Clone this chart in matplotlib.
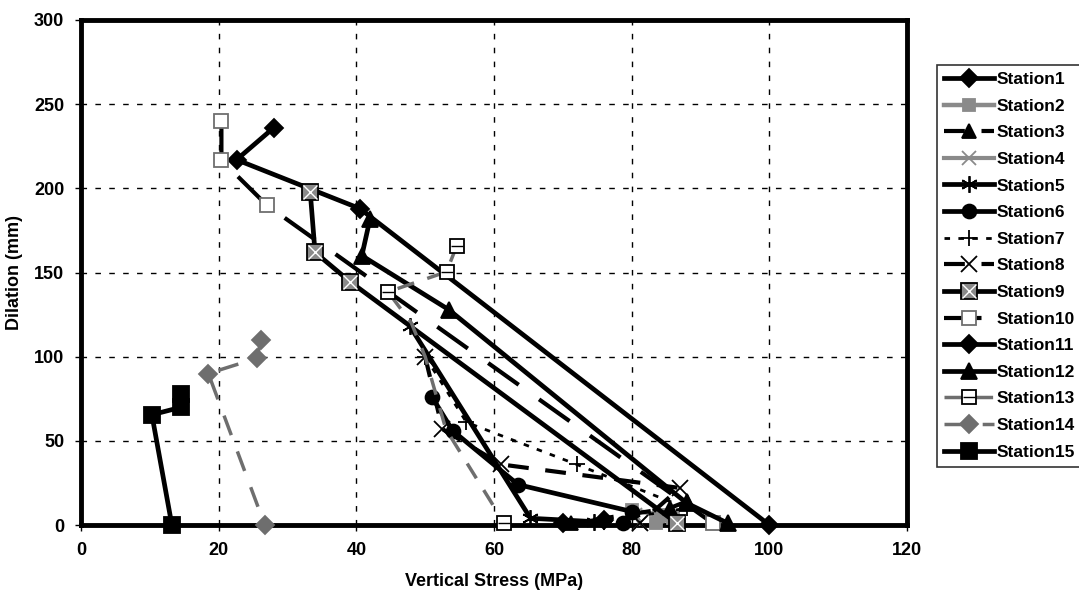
import matplotlib
matplotlib.use("Agg")
import matplotlib.pyplot as plt
from matplotlib.legend_handler import HandlerTuple

plt.rcParams['font.family'] = ['Liberation Sans', 'DejaVu Sans']
plt.rcParams['font.weight'] = 'bold'

stations = [f"Station{i}" for i in range(1, 16)]

s1_x = [28, 22.6, 40.5, 100];            s1_y = [236, 217, 188, 0]
s2_x = [80, 84, 86, 83.5];               s2_y = [9, 6, 4, 1]
s3_x = [88, 85.5, 71.2];                 s3_y = [14, 10, 1]
s4_x = [80.5, 81.2];                     s4_y = [6, 1]
s5_x = [47.8, 65.3, 74.5];               s5_y = [118, 4, 2]
s6_x = [51, 54, 63.5, 80, 78.7];         s6_y = [76, 56, 24, 8, 1]
s7_x = [50, 56, 72, 88, 76];             s7_y = [100, 61, 36, 10, 2]
s8_x = [50, 52.5, 61, 87, 81.2];         s8_y = [100, 57, 36, 22, 1]
s9_x = [33.3, 34, 39.1, 86.6];           s9_y = [198, 162, 144.5, 1]
s10_x = [20.4, 20.4, 27, 91.8];          s10_y = [240, 216.7, 190, 1]
s11_x = [76, 70];                        s11_y = [3, 1]
s12_x = [42, 40.8, 53.4, 88, 94];        s12_y = [182, 160, 128, 13, 1]
s13_x = [54.6, 53.1, 44.6, 48, 50, 53, 61.5]
s13_y = [166, 150.4, 138.5, 120, 100, 57, 1]
s14_x = [26.2, 25.5, 18.5, 26.7];        s14_y = [110, 99, 90, 0]
s15_x = [14.6, 14.6, 10.3, 13.2];        s15_y = [78, 70, 65.5, 0]

xs = [s1_x, s2_x, s3_x, s4_x, s5_x, s6_x, s7_x, s8_x, s9_x, s10_x, s11_x, s12_x, s13_x, s14_x, s15_x]
ys = [s1_y, s2_y, s3_y, s4_y, s5_y, s6_y, s7_y, s8_y, s9_y, s10_y, s11_y, s12_y, s13_y, s14_y, s15_y]

gray = '#8a8a8a'
dgray = '#6e6e6e'
# (line color, linestyle, linewidth, marker, msize, mface, medge, overlay marker, markevery)
styles = [
    ('black', '-', 3.4, 'D', 9, 'black', 'black', None, None),
    (gray, '-', 3.2, 's', 9, gray, gray, None, None),
    ('black', (0, (5, 4)), 3.0, '^', 10, 'black', 'black', None, None),
    (gray, '-', 3.0, 'x', 10, gray, gray, None, None),
    ('black', '-', 3.4, (6, 2, 0), 12, 'black', 'black', None, None),
    ('black', '-', 3.4, 'o', 10, 'black', 'black', None, None),
    ('black', (0, (2, 3)), 2.0, '+', 11, 'black', 'black', None, None),
    ('black', (0, (5, 4)), 3.0, 'x', 11, 'black', 'black', None, None),
    ('black', '-', 3.4, 's', 11, gray, 'black', 'x', None),
    ('black', (0, (9, 6)), 3.0, 's', 10, 'white', dgray, None, None),
    ('black', '-', 3.4, 'D', 9, 'black', 'black', None, None),
    ('black', '-', 3.4, '^', 11, 'black', 'black', None, None),
    (dgray, (0, (5, 4)), 2.5, 's', 10, 'white', 'black', '_', [0, 1, 2, 6]),
    (dgray, (0, (6, 5)), 2.5, 'D', 9, dgray, dgray, None, None),
    ('black', '-', 3.4, 's', 11, 'black', 'black', None, None),
]

fig = plt.figure(figsize=(10.79, 5.90), dpi=100)
ax = fig.add_axes([81/1079, 1-525/590, (907-81)/1079, (525-20)/590])

handles = []
for name, x, y, st in zip(stations, xs, ys, styles):
    lc, ls, lw, mk, ms, mf, me, ov, mev = st
    h, = ax.plot(x, y, color=lc, linestyle=ls, linewidth=lw, marker=mk,
                 markersize=ms, markerfacecolor=mf, markeredgecolor=me,
                 markeredgewidth=1.3, markevery=mev, clip_on=False, zorder=3)
    if ov is not None:
        h2, = ax.plot(x, y, linestyle='none', marker=ov, markersize=ms-1,
                      color='white' if ov == 'x' else 'black',
                      markeredgewidth=1.0, markevery=mev, clip_on=False, zorder=4)
        handles.append((h, h2))
    else:
        handles.append(h)

ax.set_xlim(0, 120)
ax.set_ylim(0, 300)
ax.set_xticks(range(0, 121, 20))
ax.set_yticks(range(0, 301, 50))
ax.grid(True, color='black', linestyle=(0, (4, 6)), linewidth=1.0)
ax.set_axisbelow(True)
for sp in ax.spines.values():
    sp.set_linewidth(3.5)
    sp.set_color('black')
ax.tick_params(direction='out', length=4, width=1, labelsize=13, pad=8)
for lab in ax.get_xticklabels() + ax.get_yticklabels():
    lab.set_fontweight('bold')
ax.set_xlabel('Vertical Stress (MPa)', fontsize=13, fontweight='bold', labelpad=10)
ax.set_ylabel('Dilation (mm)', fontsize=13, fontweight='bold', labelpad=8)

leg = fig.legend(handles, stations, loc='upper left',
                 bbox_to_anchor=(937/1079, 1-65/590),
                 handler_map={tuple: HandlerTuple(ndivide=1, pad=0)},
                 prop={'weight': 'bold', 'size': 12.5}, frameon=True,
                 fancybox=False, edgecolor='black', labelspacing=0.66,
                 handlelength=2.9, handletextpad=0.15, borderpad=0.4,
                 borderaxespad=0)
leg.get_frame().set_linewidth(1.2)

fig.savefig('out.png', dpi=100)
